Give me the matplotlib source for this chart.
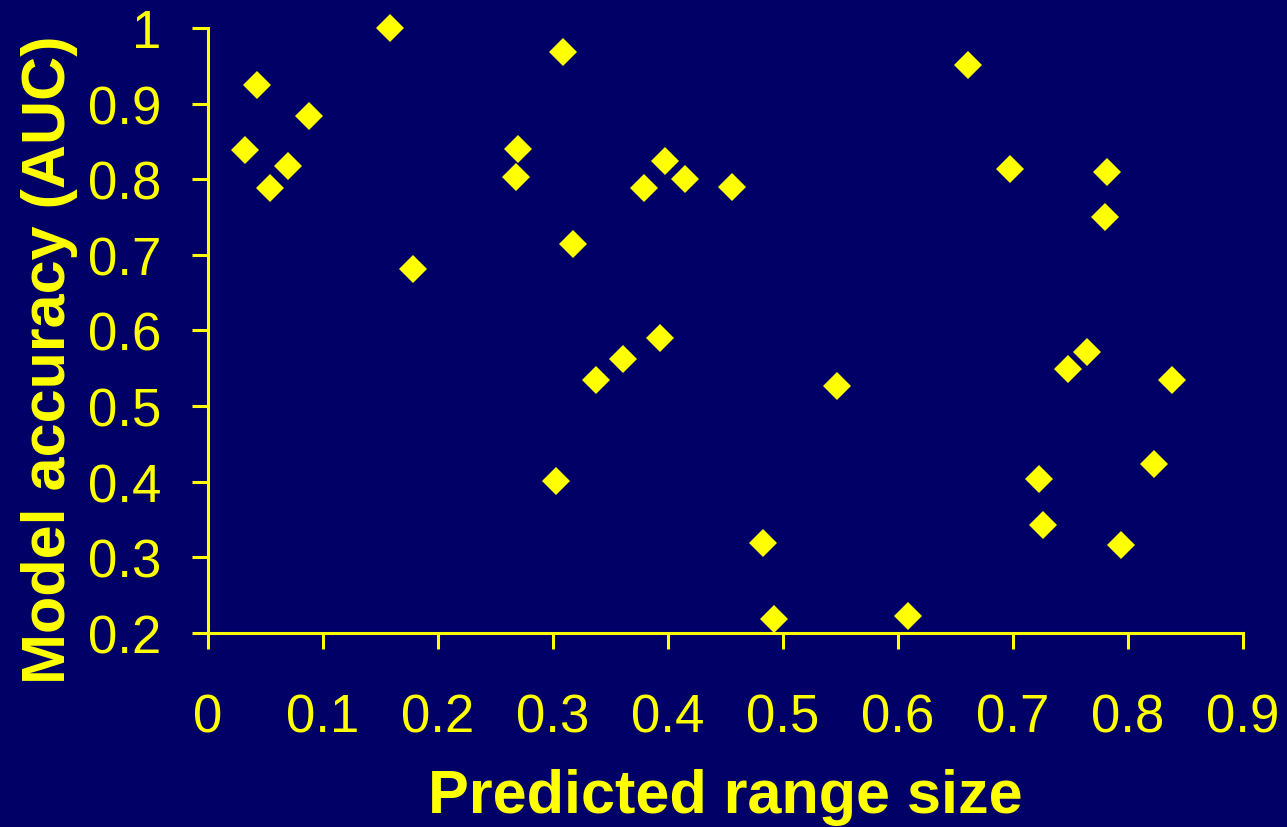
import matplotlib
matplotlib.use("Agg")
import matplotlib.pyplot as plt

# predicted range size vs model accuracy (AUC)
range_size = [0.032, 0.043, 0.054, 0.070, 0.088, 0.158, 0.178, 0.268, 0.270, 0.309,
              0.317, 0.303, 0.337, 0.361, 0.379, 0.393, 0.397, 0.415, 0.456, 0.483,
              0.492, 0.547, 0.609, 0.661, 0.697, 0.723, 0.726, 0.748, 0.764, 0.782,
              0.780, 0.794, 0.823, 0.838]
auc = [0.839, 0.925, 0.788, 0.817, 0.884, 1.000, 0.681, 0.803, 0.840, 0.968,
       0.714, 0.401, 0.534, 0.562, 0.788, 0.590, 0.824, 0.800, 0.790, 0.319,
       0.218, 0.526, 0.222, 0.951, 0.813, 0.403, 0.343, 0.549, 0.571, 0.810,
       0.750, 0.316, 0.423, 0.534]

xticks = [0, 0.1, 0.2, 0.3, 0.4, 0.5, 0.6, 0.7, 0.8, 0.9]
xticklabels = ["0", "0.1", "0.2", "0.3", "0.4", "0.5", "0.6", "0.7", "0.8", "0.9"]
yticks = [0.2, 0.3, 0.4, 0.5, 0.6, 0.7, 0.8, 0.9, 1.0]
yticklabels = ["0.2", "0.3", "0.4", "0.5", "0.6", "0.7", "0.8", "0.9", "1"]

bg = "#000066"
fg = "#FFFF00"

fig = plt.figure(figsize=(12.87, 8.28), dpi=100, facecolor=bg)
ax = fig.add_axes([0.1616, 0.2343, 0.8042, 0.7307], facecolor=bg)

ax.plot(range_size, auc, linestyle="none", marker="D", markersize=14,
        color=fg, markeredgewidth=0, clip_on=False, zorder=3)

ax.set_xlim(0, 0.9)
ax.set_ylim(0.2, 1.0)
ax.set_xticks(xticks)
ax.set_xticklabels(xticklabels, fontsize=38, family="Liberation Sans", color=fg)
ax.set_yticks(yticks)
ax.set_yticklabels(yticklabels, fontsize=38, family="Liberation Sans", color=fg)

for s in ["top", "right"]:
    ax.spines[s].set_visible(False)
for s in ["left", "bottom"]:
    ax.spines[s].set_color(fg)
    ax.spines[s].set_linewidth(2.2)

ax.tick_params(axis="x", direction="out", length=11.5, width=2.2, color=fg, pad=31)
ax.tick_params(axis="y", direction="out", length=11.5, width=2.2, color=fg, pad=22)

lab = dict(fontsize=44, fontweight="bold", color=fg, family="Liberation Sans")
ax.set_xlabel("Predicted range size", labelpad=19, **lab)
ax.set_ylabel("Model accuracy (AUC)", **lab)
ax.yaxis.set_label_coords(-0.126, 0.453)

fig.savefig("out.png", dpi=100, facecolor=bg)
